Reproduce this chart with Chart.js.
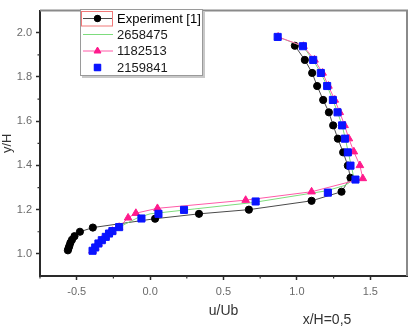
<!DOCTYPE html>
<html>
<head>
<meta charset="utf-8">
<script src="https://cdn.jsdelivr.net/npm/chart.js@4.4.0/dist/chart.umd.min.js"></script>
<style>
  body { margin: 0; background: #fff; }
  #wrap { width: 413px; height: 330px; }
</style>
</head>
<body>
<div id="wrap"><canvas id="profileChart" width="413" height="330"></canvas></div>
<script>
// series names (legend order)
const seriesNames = ['Experiment [1]', '2658475', '1182513', '2159841'];

// Experiment [1] - black circles
const expU = [0.986, 1.054, 1.104, 1.138, 1.179, 1.218, 1.247, 1.279, 1.315, 1.347, 1.365, 1.304, 1.100, 0.673, 0.333, 0.034, -0.390, -0.478, -0.515, -0.532, -0.543, -0.550, -0.556, -0.560];
const expY = [1.941, 1.877, 1.818, 1.759, 1.696, 1.640, 1.581, 1.521, 1.459, 1.399, 1.344, 1.281, 1.240, 1.200, 1.181, 1.159, 1.119, 1.100, 1.080, 1.064, 1.050, 1.036, 1.025, 1.016];

// 2658475 - green line
const greenU = [0.869, 1.040, 1.110, 1.163, 1.206, 1.245, 1.277, 1.308, 1.330, 1.350, 1.370, 1.390, 1.330, 1.200, 0.700, 0.300, 0.000, -0.080, -0.211, -0.257, -0.302, -0.352, -0.392];
const greenY = [1.981, 1.939, 1.877, 1.818, 1.759, 1.696, 1.640, 1.581, 1.521, 1.459, 1.399, 1.338, 1.310, 1.285, 1.232, 1.203, 1.181, 1.165, 1.121, 1.103, 1.077, 1.047, 1.014];

// 1182513 - magenta triangles
const magU = [0.872, 1.045, 1.120, 1.175, 1.215, 1.258, 1.292, 1.325, 1.354, 1.388, 1.429, 1.449, 1.100, 0.651, 0.050, -0.097, -0.150, -0.211, -0.257, -0.280, -0.302, -0.329, -0.352, -0.374, -0.392];
const magY = [1.981, 1.939, 1.877, 1.818, 1.759, 1.696, 1.640, 1.581, 1.521, 1.462, 1.400, 1.341, 1.281, 1.243, 1.206, 1.184, 1.163, 1.121, 1.103, 1.092, 1.077, 1.062, 1.047, 1.029, 1.014];

// 2159841 - blue squares
const blueU = [0.869, 1.041, 1.111, 1.163, 1.206, 1.245, 1.277, 1.308, 1.327, 1.347, 1.365, 1.399, 1.211, 0.719, 0.231, 0.057, -0.059, -0.211, -0.257, -0.280, -0.302, -0.329, -0.352, -0.374, -0.392];
const blueY = [1.981, 1.939, 1.877, 1.818, 1.759, 1.696, 1.640, 1.581, 1.521, 1.459, 1.399, 1.336, 1.277, 1.237, 1.199, 1.181, 1.160, 1.121, 1.103, 1.092, 1.077, 1.062, 1.047, 1.029, 1.014];

// axis ticks
const xTickVals = [-0.5, 0.0, 0.5, 1.0, 1.5];
const xMinorVals = [-0.75, -0.25, 0.25, 0.75, 1.25];
const yTickVals = [1.0, 1.2, 1.4, 1.6, 1.8, 2.0];
const yMinorVals = [1.1, 1.3, 1.5, 1.7, 1.9];

const FONT = "'Liberation Sans', Arial, sans-serif";

function pts(us, ys) {
    return us.map((u, i) => ({ x: u, y: ys[i] }));
}

const styles = [
    { color: '#000000', line: '#4a4a4a', style: 'circle', radius: 3.6, showLine: true },
    { color: '#7ddc7d', line: '#7ddc7d', style: false, radius: 0, showLine: true },
    { color: '#ff1a8c', line: '#ff5aa8', style: 'triangle', radius: 4.4, showLine: true },
    { color: '#0a14ff', line: '#0a14ff', style: 'rect', radius: 5, showLine: false }
];

// frame, minor ticks, legend and the annotation
const extrasPlugin = {
    id: 'extras',
    afterDatasetsDraw(chart) {
        const ctx = chart.ctx;
        const area = chart.chartArea;
        const xs = chart.scales.x, ys = chart.scales.y;
        ctx.save();

        // mirror frame (top / right)
        ctx.strokeStyle = '#8a8a8a';
        ctx.lineWidth = 2;
        ctx.beginPath();
        ctx.moveTo(area.left, area.top);
        ctx.lineTo(area.right, area.top);
        ctx.lineTo(area.right, area.bottom);
        ctx.stroke();

        // minor ticks
        ctx.strokeStyle = '#333';
        ctx.lineWidth = 1.2;
        ctx.beginPath();
        xMinorVals.forEach(v => {
            const px = xs.getPixelForValue(v);
            ctx.moveTo(px, area.bottom);
            ctx.lineTo(px, area.bottom + 2.5);
        });
        yMinorVals.forEach(v => {
            const py = ys.getPixelForValue(v);
            ctx.moveTo(area.left, py);
            ctx.lineTo(area.left - 2.5, py);
        });
        ctx.stroke();

        // legend box
        ctx.fillStyle = '#fff';
        ctx.fillRect(80, 9, 123, 67);
        ctx.strokeStyle = '#c8c8c8';
        ctx.lineWidth = 2;
        ctx.beginPath();
        ctx.moveTo(204, 11);
        ctx.lineTo(204, 77);
        ctx.lineTo(82, 77);
        ctx.stroke();
        ctx.strokeStyle = '#9a9a9a';
        ctx.lineWidth = 1;
        ctx.strokeRect(80.5, 9.5, 122, 66);

        const rowY = [18.5, 34.5, 51, 67.5];
        ctx.font = '13px ' + FONT;
        ctx.textBaseline = 'middle';
        ctx.textAlign = 'left';
        seriesNames.forEach((name, i) => {
            const s = styles[i];
            const y = rowY[i];
            if (s.showLine) {
                ctx.strokeStyle = s.line;
                ctx.lineWidth = 1;
                ctx.beginPath();
                ctx.moveTo(83, y);
                ctx.lineTo(113, y);
                ctx.stroke();
            }
            if (s.style) {
                ctx.fillStyle = s.color;
                ctx.strokeStyle = s.color;
                Chart.helpers.drawPoint(ctx, { pointStyle: s.style, radius: s.radius - 0.4, rotation: 0, borderWidth: 1 }, 97.5, y);
                ctx.fill();
            }
            ctx.fillStyle = i === 0 ? '#000' : '#1a1a1a';
            ctx.fillText(name, 117, y + 0.5);
        });
        // selection frame around first legend symbol
        ctx.strokeStyle = '#f07878';
        ctx.lineWidth = 1;
        ctx.strokeRect(81.5, 11.5, 31, 14.5);

        // annotation under the axis
        ctx.fillStyle = '#333';
        ctx.font = '14px ' + FONT;
        ctx.textAlign = 'center';
        ctx.fillText('x/H=0,5', 327, 320);

        ctx.restore();
    }
};

const ctx = document.getElementById('profileChart').getContext('2d');

const profileChart = new Chart(ctx, {
    type: 'scatter',
    data: {
        datasets: [
            { label: seriesNames[3], data: pts(blueU, blueY), order: 1 },
            { label: seriesNames[2], data: pts(magU, magY), order: 2 },
            { label: seriesNames[1], data: pts(greenU, greenY), order: 3 },
            { label: seriesNames[0], data: pts(expU, expY), order: 4 }
        ].map(ds => {
            const s = styles[seriesNames.indexOf(ds.label)];
            return Object.assign(ds, {
                showLine: s.showLine,
                borderColor: s.line,
                borderWidth: 1,
                backgroundColor: s.color,
                pointBackgroundColor: s.color,
                pointBorderColor: s.color,
                pointBorderWidth: 1,
                pointStyle: s.style,
                pointRadius: s.radius,
                pointHoverRadius: s.radius,
                tension: 0
            });
        })
    },
    options: {
        responsive: false,
        animation: false,
        layout: { padding: { top: 6, right: 5, left: 0, bottom: 0 } },
        plugins: {
            legend: { display: false },
            tooltip: { enabled: false }
        },
        scales: {
            x: {
                type: 'linear',
                min: -0.75,
                max: 1.75,
                afterFit: s => { s.height = 54; },
                afterBuildTicks: s => { s.ticks = xTickVals.map(v => ({ value: v })); },
                border: { display: true, color: '#2a2a2a', width: 2 },
                grid: { drawOnChartArea: false, drawTicks: true, tickLength: 4, tickColor: '#2a2a2a', tickWidth: 1.5 },
                ticks: {
                    padding: 5,
                    color: '#6a6a6a',
                    font: { family: FONT, size: 11 },
                    maxRotation: 0,
                    callback: v => v.toFixed(1)
                },
                title: {
                    display: true,
                    text: 'u/Ub',
                    color: '#333',
                    font: { family: FONT, size: 14 },
                    padding: { top: 0, bottom: 10 }
                }
            },
            y: {
                type: 'linear',
                min: 0.9,
                max: 2.1,
                afterFit: s => { s.width = 40; },
                afterBuildTicks: s => { s.ticks = yTickVals.map(v => ({ value: v })); },
                border: { display: true, color: '#2a2a2a', width: 2 },
                grid: { drawOnChartArea: false, drawTicks: true, tickLength: 4, tickColor: '#2a2a2a', tickWidth: 1.5 },
                ticks: {
                    padding: 4,
                    color: '#6a6a6a',
                    font: { family: FONT, size: 11 },
                    callback: v => v.toFixed(1)
                },
                title: {
                    display: true,
                    text: 'y/H',
                    color: '#333',
                    font: { family: FONT, size: 13 },
                    padding: { top: 0, bottom: 0 }
                }
            }
        }
    },
    plugins: [extrasPlugin]
});
</script>
</body>
</html>
